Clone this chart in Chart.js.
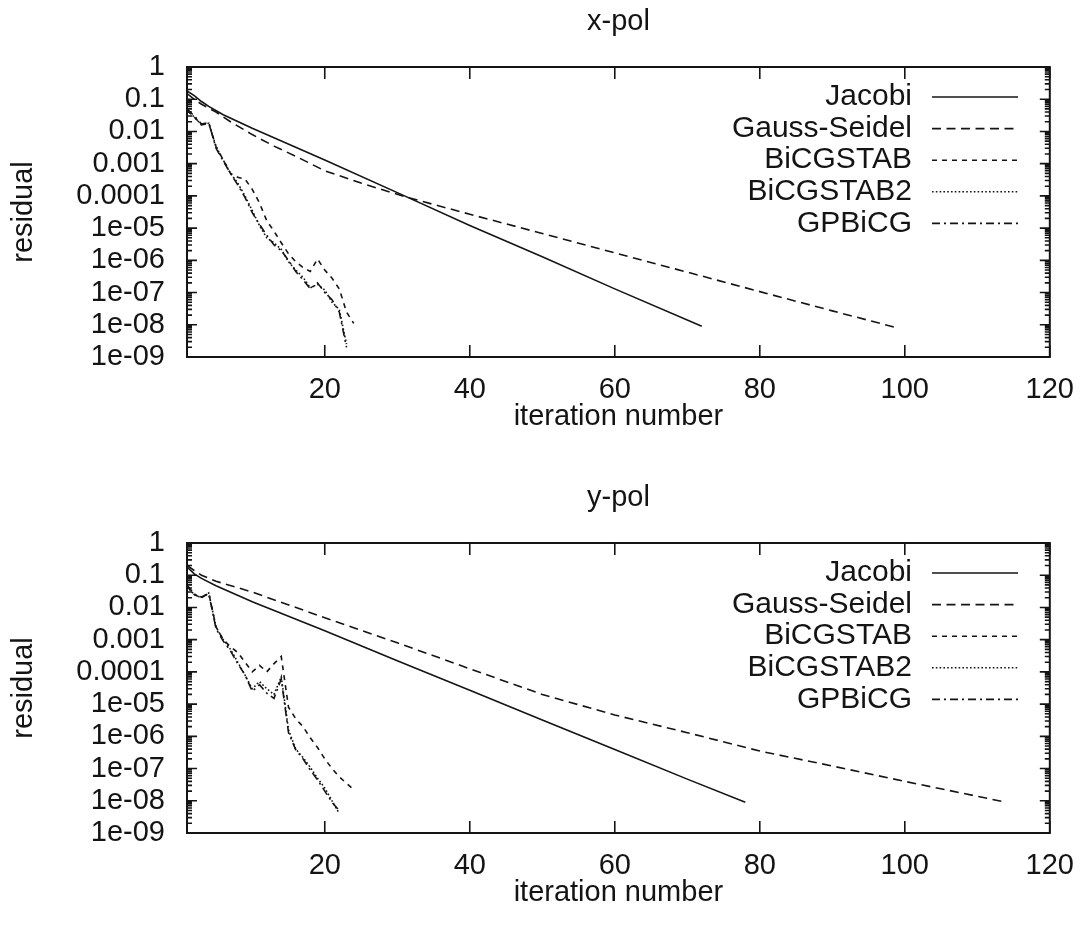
<!DOCTYPE html>
<html>
<head>
<meta charset="utf-8">
<script src="https://cdn.jsdelivr.net/npm/chart.js@4.4.1/dist/chart.umd.min.js"></script>
<style>
  html, body { margin: 0; background: #fff; }
  #wrap { position: relative; width: 1090px; height: 929px; }
  canvas { position: absolute; left: 0; }
</style>
</head>
<body>
<div id="wrap">
  <canvas id="xpol" width="1090" height="453" style="top:0px"></canvas>
  <canvas id="ypol" width="1090" height="453" style="top:476px"></canvas>
</div>
<script>
// axis ticks
const xTickValues = [20, 40, 60, 80, 100, 120];
const xTickLabels = ['20', '40', '60', '80', '100', '120'];
const yTickValues = [1, 0.1, 0.01, 0.001, 0.0001, 1e-5, 1e-6, 1e-7, 1e-8, 1e-9];
const yTickLabels = ['1', '0.1', '0.01', '0.001', '0.0001', '1e-05', '1e-06', '1e-07', '1e-08', '1e-09'];
const methods = ['Jacobi', 'Gauss-Seidel', 'BiCGSTAB', 'BiCGSTAB2', 'GPBiCG'];

// x-pol
const xJacobiIt  = [1, 2, 3, 4, 6, 10, 20, 31, 40, 50, 60, 72];
const xJacobiRes = [0.18, 0.13, 0.085, 0.06, 0.033, 0.0125, 0.0013, 0.0001, 1.2e-5, 1.3e-6, 1.3e-7, 9e-9];
const xGaussIt  = [1, 2, 3, 5, 7, 10, 13, 16, 20, 25, 31, 40, 50, 60, 70, 80, 90, 99];
const xGaussRes = [0.15, 0.1, 0.07, 0.04, 0.02, 0.008, 0.0035, 0.0017, 6e-4, 2.5e-4, 9.5e-5, 2.7e-5, 6.8e-6, 1.7e-6, 4.3e-7, 1.07e-7, 2.7e-8, 8e-9];
const xBicgIt  = [1, 2, 3, 4, 5, 6, 7, 8, 9, 10, 11, 12, 13, 14, 15, 16, 17, 18, 19, 20, 21, 22, 23, 24];
const xBicgRes = [0.045, 0.028, 0.016, 0.018, 0.0034, 0.0013, 5e-4, 3.8e-4, 3.3e-4, 1.6e-4, 6e-5, 1.7e-5, 8e-6, 3.5e-6, 1.6e-6, 9e-7, 6e-7, 4.5e-7, 1.1e-6, 5e-7, 2.8e-7, 1.3e-7, 2.5e-8, 1.1e-8];
const xBicg2It  = [1, 2, 3, 4, 5, 6, 7, 8, 9, 10, 11, 12, 13, 14, 15, 16, 17, 18, 19, 20, 21, 22, 23];
const xBicg2Res = [0.045, 0.028, 0.016, 0.018, 0.0034, 0.0013, 5e-4, 2.5e-4, 1e-4, 3.5e-5, 1.2e-5, 5e-6, 3.5e-6, 2.2e-6, 9e-7, 5e-7, 3e-7, 1.4e-7, 1.8e-7, 1.2e-7, 5e-8, 3e-8, 2.5e-9];
const xGpbIt  = [1, 2, 3, 4, 5, 6, 7, 8, 9, 10, 11, 12, 13, 14, 15, 16, 17, 18, 19, 20, 21, 22, 23];
const xGpbRes = [0.05, 0.03, 0.017, 0.019, 0.003, 0.0012, 5e-4, 2.2e-4, 9e-5, 3e-5, 1.3e-5, 6e-6, 3e-6, 2e-6, 1e-6, 4.5e-7, 2.5e-7, 1.3e-7, 2e-7, 1e-7, 6e-8, 2.5e-8, 2e-9];

// y-pol
const yJacobiIt  = [1, 2, 3, 5, 10, 20, 30, 40, 50, 60, 70, 78];
const yJacobiRes = [0.18, 0.11, 0.08, 0.047, 0.015, 0.0019, 2.2e-4, 2.7e-5, 3.2e-6, 3.9e-7, 4.7e-8, 9e-9];
const yGaussIt  = [1, 2, 3, 5, 10, 20, 30, 40, 50, 60, 70, 80, 90, 100, 114];
const yGaussRes = [0.2, 0.14, 0.1, 0.065, 0.03, 0.0048, 8e-4, 1.25e-4, 2e-5, 4.6e-6, 1.3e-6, 3.5e-7, 1.2e-7, 4e-8, 9e-9];
const yBicgIt  = [1, 2, 3, 4, 5, 6, 7, 8, 9, 10, 11, 12, 13, 14, 15, 16, 17, 18, 19, 20, 21, 22, 23, 24];
const yBicgRes = [0.045, 0.025, 0.02, 0.028, 0.0025, 0.001, 6e-4, 4e-4, 2e-4, 1e-4, 1.6e-4, 1e-4, 1.8e-4, 3e-4, 8e-6, 3.5e-6, 2e-6, 9e-7, 4.5e-7, 2e-7, 1e-7, 5.5e-8, 3.5e-8, 2.2e-8];
const yBicg2It  = [1, 2, 3, 4, 5, 6, 7, 8, 9, 10, 11, 12, 13, 14, 15, 16, 17, 18, 19, 20, 21, 22];
const yBicg2Res = [0.045, 0.025, 0.02, 0.028, 0.0025, 0.001, 5e-4, 2e-4, 8e-5, 3e-5, 5e-5, 3e-5, 2e-5, 7e-5, 1.6e-6, 4e-7, 2.2e-7, 1.1e-7, 5e-8, 2.5e-8, 1e-8, 4e-9];
const yGpbIt  = [1, 2, 3, 4, 5, 6, 7, 8, 9, 10, 11, 12, 13, 14, 15, 16, 17, 18, 19, 20, 21, 22];
const yGpbRes = [0.05, 0.026, 0.021, 0.027, 0.0022, 9e-4, 4.5e-4, 1.8e-4, 8e-5, 2.5e-5, 4e-5, 2.2e-5, 1.5e-5, 6e-5, 1.3e-6, 3.8e-7, 2e-7, 9e-8, 4.5e-8, 2e-8, 9e-9, 5e-9];

const INK = '#141414';
const FONT = "'Liberation Sans', Arial, Helvetica, sans-serif";
const dashes = [[], [9, 5.5], [5, 5], [1.6, 2.2], [8, 4, 2, 4]];

function pts(it, res) {
  return it.map((v, i) => ({ x: v, y: res[i] }));
}

// frame, inward ticks (gnuplot style) and the legend
const gnuFrame = {
  id: 'gnuFrame',
  afterDatasetsDraw(chart) {
    const { ctx, chartArea: a, scales: { x, y } } = chart;
    ctx.save();
    ctx.strokeStyle = INK;
    ctx.lineWidth = 2;
    ctx.strokeRect(a.left, a.top, a.right - a.left, a.bottom - a.top);
    ctx.lineWidth = 1.6;
    ctx.beginPath();
    xTickValues.forEach(v => {
      const px = x.getPixelForValue(v);
      ctx.moveTo(px, a.bottom); ctx.lineTo(px, a.bottom - 12);
      ctx.moveTo(px, a.top); ctx.lineTo(px, a.top + 12);
    });
    for (let d = -9; d <= 0; d++) {
      for (let m = 1; m <= 9; m++) {
        const v = m * Math.pow(10, d);
        if (v > 1.0000001) break;
        const py = y.getPixelForValue(v);
        const len = m === 1 ? 10 : 5;
        ctx.moveTo(a.left, py); ctx.lineTo(a.left + len, py);
        ctx.moveTo(a.right, py); ctx.lineTo(a.right - len, py);
      }
    }
    ctx.stroke();

    // legend: text right-aligned, sample to the right
    ctx.font = '30px ' + FONT;
    ctx.fillStyle = INK;
    ctx.textAlign = 'right';
    ctx.textBaseline = 'middle';
    chart.data.datasets.forEach((ds, i) => {
      const ly = a.top + 30 + i * 31.6;
      ctx.fillText(ds.label, a.left + 725, ly);
      ctx.beginPath();
      ctx.setLineDash(ds.borderDash);
      ctx.lineWidth = ds.borderWidth;
      ctx.moveTo(a.left + 745, ly);
      ctx.lineTo(a.left + 831, ly);
      ctx.stroke();
    });
    ctx.restore();
  }
};

function makeChart(id, title, series) {
  return new Chart(document.getElementById(id), {
    type: 'line',
    data: {
      datasets: series.map((s, i) => ({
        label: methods[i],
        data: pts(s[0], s[1]),
        borderColor: INK,
        borderWidth: 1.6,
        borderDash: dashes[i],
        pointRadius: 0,
        tension: 0,
        fill: false
      }))
    },
    options: {
      responsive: false,
      animation: false,
      devicePixelRatio: 1,
      layout: { padding: { left: 0, right: 34, top: 0, bottom: 0 } },
      plugins: {
        legend: { display: false },
        tooltip: { enabled: false },
        title: {
          display: true,
          text: title,
          fullSize: false,
          color: INK,
          font: { family: FONT, size: 29, weight: 'normal' },
          padding: { top: 5, bottom: 27.2 }
        }
      },
      scales: {
        x: {
          type: 'linear',
          min: 1,
          max: 120,
          grid: { display: false, drawTicks: false },
          border: { display: false },
          afterBuildTicks: s => { s.ticks = xTickValues.map(v => ({ value: v })); },
          afterFit: s => { s.height = 96; },
          ticks: {
            autoSkip: false,
            maxRotation: 0,
            padding: 16,
            color: INK,
            font: { family: FONT, size: 29 },
            callback: (v, i) => xTickLabels[i]
          },
          title: {
            display: true,
            text: 'iteration number',
            color: INK,
            font: { family: FONT, size: 29 },
            padding: { top: 0, bottom: 18.6 }
          }
        },
        y: {
          type: 'logarithmic',
          min: 1e-9,
          max: 1,
          grid: { display: false, drawTicks: false },
          border: { display: false },
          afterBuildTicks: s => { s.ticks = yTickValues.map(v => ({ value: v })); },
          afterFit: s => { s.width = 187; },
          ticks: {
            autoSkip: false,
            padding: 22,
            color: INK,
            font: { family: FONT, size: 29 },
            callback: (v, i) => yTickLabels[i]
          },
          title: {
            display: true,
            text: 'residual',
            color: INK,
            font: { family: FONT, size: 29 },
            padding: { top: 6.6, bottom: 0 }
          }
        }
      }
    },
    plugins: [gnuFrame]
  });
}

makeChart('xpol', 'x-pol', [
  [xJacobiIt, xJacobiRes], [xGaussIt, xGaussRes], [xBicgIt, xBicgRes],
  [xBicg2It, xBicg2Res], [xGpbIt, xGpbRes]
]);
makeChart('ypol', 'y-pol', [
  [yJacobiIt, yJacobiRes], [yGaussIt, yGaussRes], [yBicgIt, yBicgRes],
  [yBicg2It, yBicg2Res], [yGpbIt, yGpbRes]
]);
</script>
</body>
</html>
